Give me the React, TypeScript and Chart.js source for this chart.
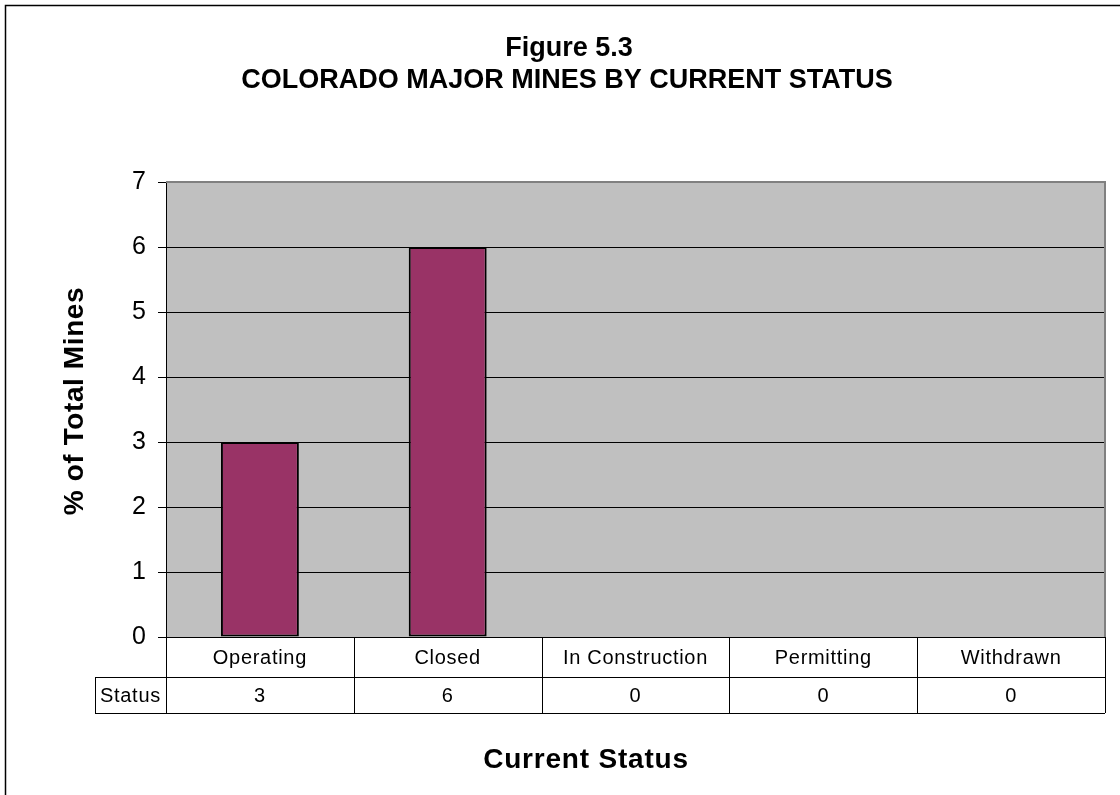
import React, { useEffect, useRef } from 'react';
import { Chart, registerables } from 'chart.js';

Chart.register(...registerables);

const titleLines = ['Figure 5.3', 'COLORADO MAJOR MINES BY CURRENT STATUS'];
const categories = ['Operating', 'Closed', 'In Construction', 'Permitting', 'Withdrawn'];
const seriesName = 'Status';
const values = [3, 6, 0, 0, 0];
const yTicks = [0, 1, 2, 3, 4, 5, 6, 7];
const yAxisTitle = '% of Total Mines';
const xAxisTitle = 'Current Status';

const FONT = '"Liberation Sans", Arial, Helvetica, sans-serif';
const W = 1120;
const H = 795;

const decorPlugin = {
  id: 'decor',
  beforeDraw(chart: any) {
    const { ctx, chartArea: a } = chart;
    ctx.save();
    ctx.fillStyle = '#ffffff';
    ctx.fillRect(0, 0, W, H);
    ctx.fillStyle = '#C0C0C0';
    ctx.fillRect(a.left, a.top, a.right - a.left, a.bottom - a.top);
    ctx.strokeStyle = '#000';
    ctx.lineWidth = 1.5;
    ctx.beginPath();
    ctx.moveTo(5.5, H + 5);
    ctx.lineTo(5.5, 5.5);
    ctx.lineTo(W + 5, 5.5);
    ctx.stroke();
    ctx.restore();
  },
  afterDraw(chart: any) {
    const { ctx, chartArea: a, scales } = chart;
    const xs = scales.x;
    ctx.save();
    ctx.strokeStyle = '#808080';
    ctx.lineWidth = 2;
    ctx.beginPath();
    ctx.moveTo(a.left, a.top);
    ctx.lineTo(a.right, a.top);
    ctx.lineTo(a.right, a.bottom);
    ctx.stroke();

    const row1Top = a.bottom;
    const row1Bot = a.bottom + 40;
    const row2Bot = a.bottom + 76;
    const tableLeft = 95;
    const n = categories.length;
    const cw = (a.right - a.left) / n;
    ctx.strokeStyle = '#000';
    ctx.lineWidth = 1;
    ctx.beginPath();
    ctx.moveTo(a.left, Math.round(row1Top) + 0.5);
    ctx.lineTo(a.right, Math.round(row1Top) + 0.5);
    ctx.moveTo(tableLeft, Math.round(row1Bot) + 0.5);
    ctx.lineTo(a.right, Math.round(row1Bot) + 0.5);
    ctx.moveTo(tableLeft, Math.round(row2Bot) + 0.5);
    ctx.lineTo(a.right, Math.round(row2Bot) + 0.5);
    ctx.moveTo(tableLeft + 0.5, row1Bot);
    ctx.lineTo(tableLeft + 0.5, row2Bot);
    for (let i = 0; i <= n; i++) {
      const x = Math.round(a.left + i * cw) + 0.5;
      ctx.moveTo(x, row1Top);
      ctx.lineTo(x, row2Bot);
    }
    ctx.stroke();

    ctx.fillStyle = '#000';
    ctx.font = `20px ${FONT}`;
    (ctx as any).letterSpacing = '0.7px';
    ctx.textBaseline = 'middle';
    ctx.textAlign = 'center';
    categories.forEach((c, i) => {
      const cx = xs.getPixelForValue(i);
      ctx.fillText(c, cx, (row1Top + row1Bot) / 2 + 1);
      ctx.fillText(String(values[i]), cx, (row1Bot + row2Bot) / 2 + 1);
    });
    ctx.textAlign = 'left';
    ctx.fillText(seriesName, 100, (row1Bot + row2Bot) / 2 + 1);

    ctx.textBaseline = 'alphabetic';
    ctx.textAlign = 'center';
    (ctx as any).letterSpacing = '0px';
    ctx.font = `bold 27px ${FONT}`;
    ctx.fillText(titleLines[0], 569, 56);
    ctx.fillText(titleLines[1], 567, 88);

    (ctx as any).letterSpacing = '0.8px';
    ctx.font = `bold 28px ${FONT}`;
    ctx.fillText(xAxisTitle, 586, 768);

    (ctx as any).letterSpacing = '0.6px';
    ctx.translate(83, 401);
    ctx.rotate(-Math.PI / 2);
    ctx.fillText(yAxisTitle, 0, 0);
    ctx.restore();
  },
};

export default function App() {
  const ref = useRef<HTMLCanvasElement | null>(null);
  useEffect(() => {
    document.body.style.margin = '0';
    const canvas = ref.current;
    if (!canvas) return;
    const chart = new Chart(canvas, {
      type: 'bar',
      data: {
        labels: categories,
        datasets: [
          {
            label: seriesName,
            data: values,
            backgroundColor: '#993366',
            borderColor: '#000000',
            borderWidth: 2,
            borderSkipped: false,
            categoryPercentage: 0.415,
            barPercentage: 1,
          },
        ],
      },
      options: {
        responsive: false,
        animation: false,
        devicePixelRatio: 1,
        layout: { padding: { left: 6, right: W - 1105, top: 182, bottom: 0 } },
        plugins: {
          legend: { display: false },
          tooltip: { enabled: false },
          title: { display: false },
        },
        scales: {
          x: {
            type: 'category',
            offset: true,
            ticks: { display: false },
            grid: { display: false, drawTicks: false },
            border: { display: true, color: '#000', width: 1 },
            afterFit: (s: any) => {
              s.height = H - 637;
            },
          },
          y: {
            min: 0,
            max: 7,
            afterBuildTicks: (s: any) => {
              s.ticks = yTicks.map((v) => ({ value: v }));
            },
            ticks: {
              color: '#000',
              font: { family: FONT, size: 25 },
              padding: 12,
            },
            grid: {
              color: (c: any) => (c.tick && c.tick.value === 7 ? 'rgba(0,0,0,0)' : '#000'),
              tickColor: '#000',
              tickLength: 8,
              lineWidth: 1,
            },
            border: { display: true, color: '#000', width: 1 },
            afterFit: (s: any) => {
              s.width = 166 - 6;
            },
          },
        },
      },
      plugins: [decorPlugin],
    });
    return () => chart.destroy();
  }, []);
  return (
    <div style={{ width: W, height: H }}>
      <canvas ref={ref} width={W} height={H} style={{ display: 'block', width: W, height: H }} />
    </div>
  );
}
